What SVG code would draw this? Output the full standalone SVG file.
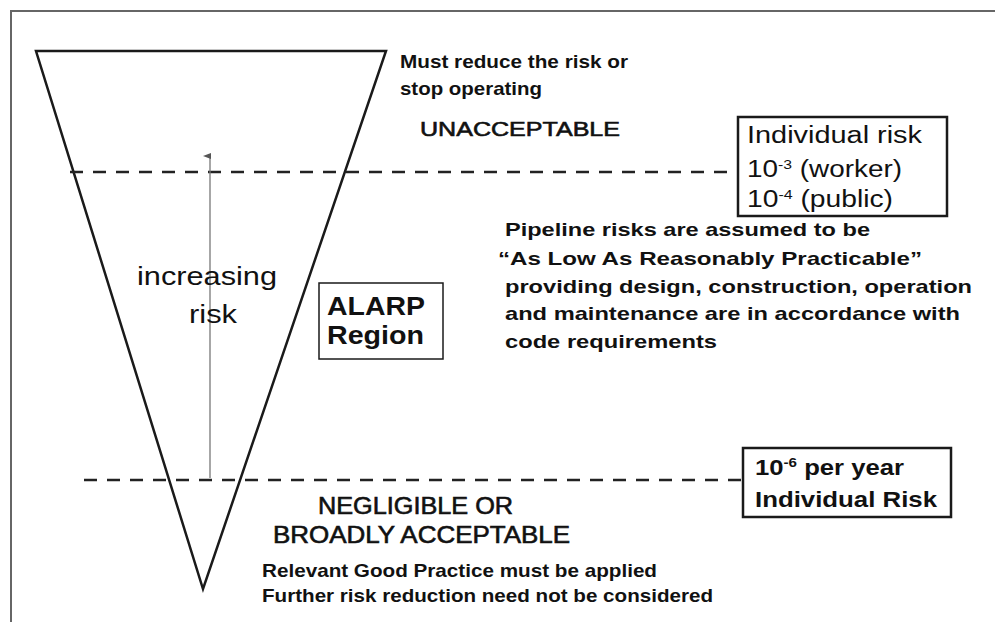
<svg xmlns="http://www.w3.org/2000/svg" width="995" height="622" viewBox="0 0 995 622">
  <style>
    text { font-family: "Liberation Sans", Arial, sans-serif; fill: #111; }
    .b { font-weight: bold; }
    .m { stroke: #111; stroke-width: 0.6; }
    .frame { stroke: #666; stroke-width: 2; fill: none; }
    .shape { stroke: #1a1a1a; stroke-width: 2.5; fill: none; stroke-linejoin: miter; }
    .dash { stroke: #222; stroke-width: 2.5; stroke-dasharray: 13 10; fill: none; }
    .box { stroke: #1a1a1a; stroke-width: 2.5; fill: #fff; }
    .thin { stroke: #1a1a1a; stroke-width: 1.5; fill: #fff; }
  </style>
  <defs>
    <marker id="tip" markerWidth="6" markerHeight="8" refX="3" refY="7" orient="auto-start-reverse" markerUnits="userSpaceOnUse">
      <path d="M0,8 L3,0 L6,8 Z" fill="#555"/>
    </marker>
  </defs>

  <rect width="995" height="622" fill="#fff"/>
  <!-- page frame -->
  <path class="frame" d="M11,622 V11 H995"/>

  <!-- risk triangle -->
  <g id="triangle">
    <path class="shape" d="M36,51 H386 L203,589 Z"/>
  </g>

  <!-- threshold lines and risk arrow -->
  <g id="connectors">
    <line class="dash" x1="70" y1="172" x2="738" y2="172"/>
    <line class="dash" x1="84" y1="480" x2="743" y2="480"/>
    <line x1="210" y1="478" x2="210" y2="156" stroke="#777" stroke-width="1.3" marker-end="url(#tip)"/>
  </g>

  <g id="increasing-risk">
    <text x="207" y="285" font-size="26" text-anchor="middle" fill="#222" textLength="140" lengthAdjust="spacingAndGlyphs">increasing</text>
    <text x="213" y="323" font-size="26" text-anchor="middle" fill="#222" textLength="48" lengthAdjust="spacingAndGlyphs">risk</text>
  </g>

  <g id="unacceptable">
    <text class="b" x="400" y="68" font-size="19" textLength="228" lengthAdjust="spacingAndGlyphs">Must reduce the risk or</text>
    <text class="b" x="400" y="95" font-size="19" textLength="142" lengthAdjust="spacingAndGlyphs">stop operating</text>
    <text class="m" x="420" y="136" font-size="20" textLength="200" lengthAdjust="spacingAndGlyphs">UNACCEPTABLE</text>
  </g>

  <g id="upper-limit">
    <rect class="box" x="738" y="117" width="209" height="99"/>
    <text x="747" y="143" font-size="23" textLength="175" lengthAdjust="spacingAndGlyphs">Individual risk</text>
    <text x="747" y="177" font-size="23" textLength="155" lengthAdjust="spacingAndGlyphs">10<tspan font-size="13" dy="-8">-3</tspan><tspan dy="8"> (worker)</tspan></text>
    <text x="747" y="207" font-size="23" textLength="146" lengthAdjust="spacingAndGlyphs">10<tspan font-size="13" dy="-8">-4</tspan><tspan dy="8"> (public)</tspan></text>
  </g>

  <g id="alarp">
    <rect class="thin" x="319" y="283" width="124" height="76"/>
    <text class="b" x="327" y="315" font-size="25" textLength="98" lengthAdjust="spacingAndGlyphs">ALARP</text>
    <text class="b" x="327" y="344" font-size="25" textLength="97" lengthAdjust="spacingAndGlyphs">Region</text>
  </g>

  <g id="alarp-note">
    <text class="b" x="505" y="236" font-size="19" textLength="365" lengthAdjust="spacingAndGlyphs">Pipeline risks are assumed to be</text>
    <text class="b" x="498" y="265" font-size="19" textLength="424" lengthAdjust="spacingAndGlyphs">“As  Low As Reasonably Practicable”</text>
    <text class="b" x="505" y="293" font-size="19" textLength="467" lengthAdjust="spacingAndGlyphs">providing design, construction, operation</text>
    <text class="b" x="505" y="320" font-size="19" textLength="455" lengthAdjust="spacingAndGlyphs">and maintenance are in accordance with</text>
    <text class="b" x="505" y="348" font-size="19" textLength="212" lengthAdjust="spacingAndGlyphs">code requirements</text>
  </g>

  <g id="lower-limit">
    <rect class="box" x="743" y="448" width="208" height="69"/>
    <text class="b" x="755" y="475" font-size="22" textLength="149" lengthAdjust="spacingAndGlyphs">10<tspan font-size="13" dy="-8">-6</tspan><tspan dy="8"> per year</tspan></text>
    <text class="b" x="755" y="507" font-size="22" textLength="182" lengthAdjust="spacingAndGlyphs">Individual Risk</text>
  </g>

  <g id="negligible">
    <text class="m" x="318" y="514" font-size="23" textLength="195" lengthAdjust="spacingAndGlyphs">NEGLIGIBLE OR</text>
    <text class="m" x="273" y="543" font-size="23" textLength="297" lengthAdjust="spacingAndGlyphs">BROADLY ACCEPTABLE</text>
    <text class="b" x="262" y="577" font-size="18.5" textLength="395" lengthAdjust="spacingAndGlyphs">Relevant Good Practice must be applied</text>
    <text class="b" x="262" y="602" font-size="18.5" textLength="451" lengthAdjust="spacingAndGlyphs">Further risk reduction need not be considered</text>
  </g>
</svg>
